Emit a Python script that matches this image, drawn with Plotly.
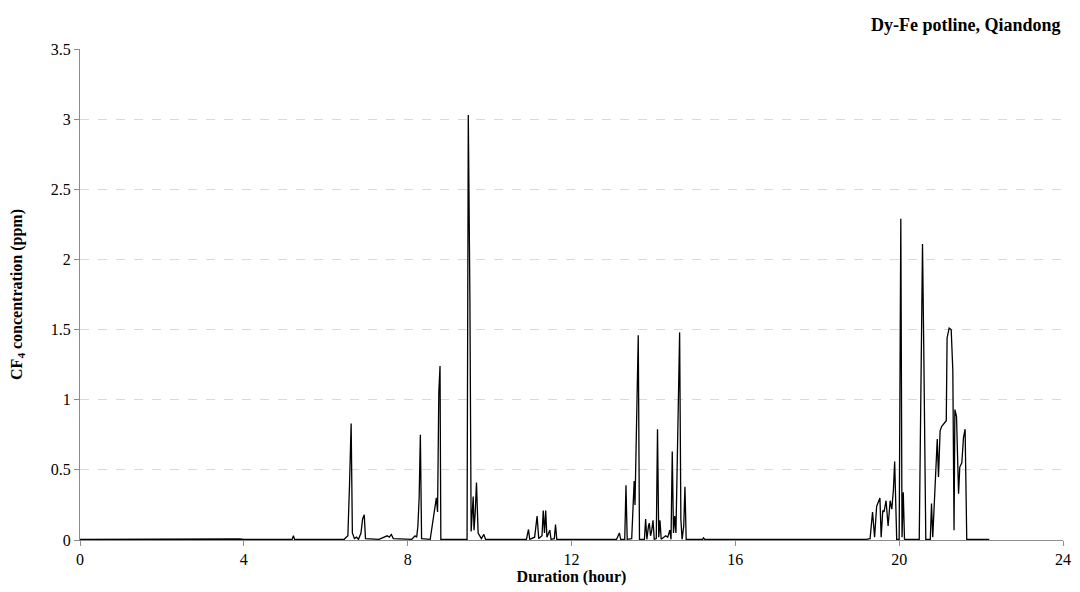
import plotly.graph_objects as go

# Duration (hour) and CF4 concentration (ppm)
hours = [
    0.0, 0.5, 1.0, 1.5, 2.0, 2.5, 3.0, 3.5, 3.9, 4.0, 4.5, 5.0, 5.18, 5.21, 5.24, 6.0,
    6.45, 6.5, 6.54, 6.58, 6.62, 6.65, 6.7, 6.75, 6.8, 6.86, 6.9, 6.94, 6.97,
    7.3, 7.4, 7.5, 7.55, 7.6, 7.65, 8.1, 8.18, 8.22, 8.25, 8.28, 8.31, 8.34,
    8.55, 8.62, 8.66, 8.7, 8.73, 8.76, 8.79, 8.81,
    9.45, 9.48, 9.52, 9.55, 9.6, 9.62, 9.65, 9.68, 9.72, 9.8, 9.86, 9.9,
    10.9, 10.95, 10.98, 11.1, 11.16, 11.2, 11.28, 11.31, 11.34, 11.37, 11.4, 11.47, 11.5,
    11.58, 11.61, 11.64,
    13.1, 13.17, 13.2, 13.3, 13.33, 13.36, 13.47, 13.5, 13.53, 13.55, 13.57, 13.6, 13.63, 13.66,
    13.78, 13.81, 13.84, 13.88, 13.9, 13.93, 13.96, 13.99, 14.02, 14.07, 14.1, 14.13, 14.16, 14.19,
    14.3, 14.35, 14.4, 14.43, 14.46, 14.49, 14.52, 14.55, 14.58, 14.61, 14.64, 14.67, 14.7,
    14.74, 14.77, 14.8, 15.2, 15.22, 15.25,
    19.2, 19.29, 19.35, 19.4, 19.45, 19.53, 19.56, 19.6, 19.63, 19.68, 19.73, 19.78, 19.82,
    19.86, 19.89, 19.94, 20.0, 20.04, 20.07, 20.1, 20.13,
    20.49, 20.55, 20.57, 20.6, 20.62, 20.65, 20.76, 20.79, 20.82, 20.87, 20.93, 20.96, 21.0,
    21.04, 21.15, 21.17, 21.22, 21.27, 21.31, 21.34, 21.36, 21.4, 21.45, 21.48, 21.53, 21.57,
    21.61, 21.65, 21.9, 22.2,
]
ppm = [
    0.004, 0.005, 0.004, 0.006, 0.005, 0.006, 0.008, 0.009, 0.007, 0.004, 0.004, 0.004, 0.004, 0.03, 0.004, 0.004,
    0.005, 0.02, 0.03, 0.39, 0.83, 0.05, 0.01, 0.02, 0.005, 0.05, 0.15, 0.18, 0.01,
    0.005, 0.02, 0.03, 0.02, 0.04, 0.01, 0.005, 0.03, 0.02, 0.1, 0.3, 0.75, 0.01,
    0.005, 0.15, 0.25, 0.3, 0.2, 1.05, 1.24, 0.005,
    0.005, 3.03, 1.7, 0.06, 0.31, 0.07, 0.2, 0.41, 0.05, 0.01, 0.04, 0.005,
    0.005, 0.075, 0.005, 0.02, 0.17, 0.01, 0.03, 0.21, 0.05, 0.21, 0.02, 0.07, 0.005,
    0.01, 0.11, 0.005,
    0.005, 0.05, 0.005, 0.005, 0.39, 0.005, 0.01, 0.3, 0.42, 0.25, 0.55, 1.08, 1.46, 0.005,
    0.005, 0.15, 0.005, 0.1, 0.12, 0.03, 0.07, 0.14, 0.005, 0.01, 0.79, 0.02, 0.14, 0.005,
    0.03, 0.02, 0.07, 0.005, 0.63, 0.05, 0.17, 0.05, 0.63, 1.22, 1.48, 0.15, 0.005,
    0.1, 0.38, 0.005, 0.005, 0.015, 0.005,
    0.005, 0.01, 0.2, 0.02, 0.24, 0.3, 0.02, 0.21, 0.2, 0.28, 0.1, 0.28, 0.22,
    0.36, 0.56, 0.005, 0.005, 2.29, 0.02, 0.34, 0.005,
    0.005, 1.57, 2.11, 1.38, 0.83, 0.005, 0.005, 0.26, 0.02, 0.36, 0.72, 0.45, 0.78,
    0.81, 0.85, 1.44, 1.51, 1.5, 1.21, 0.07, 0.93, 0.88, 0.33, 0.52, 0.55, 0.73,
    0.79, 0.005, 0.006, 0.004,
]

x_ticks = [0, 4, 8, 12, 16, 20, 24]
y_ticks = [0, 0.5, 1, 1.5, 2, 2.5, 3, 3.5]
y_labels = ["0", "0.5", "1", "1.5", "2", "2.5", "3", "3.5"]

FONT = "Liberation Serif"

fig = go.Figure()
fig.add_trace(go.Scatter(
    x=hours, y=ppm, mode="lines",
    line=dict(color="black", width=1.3),
    showlegend=False, hoverinfo="skip",
))

fig.update_layout(
    width=1072, height=584,
    margin=dict(l=72, r=17, t=41, b=52, autoexpand=False),
    paper_bgcolor="white", plot_bgcolor="white",
    font=dict(family=FONT, size=16, color="black"),
    annotations=[dict(
        text="<b>Dy-Fe potline, Qiandong</b>",
        xref="paper", yref="paper", x=1, y=1, xanchor="right", yanchor="bottom",
        yshift=12, showarrow=False, font=dict(family=FONT, size=18, color="black"),
    )],
)
fig.update_xaxes(
    range=[0, 24], tickvals=x_ticks, ticktext=[str(t) for t in x_ticks],
    showgrid=False, zeroline=False, showline=True, linecolor="#8c8c8c", linewidth=1,
    ticks="outside", ticklen=5, tickcolor="#8c8c8c", automargin=False,
    title=dict(text="<b>Duration (hour)</b>", font=dict(family=FONT, size=16), standoff=3),
)
fig.update_yaxes(
    range=[0, 3.5], tickvals=y_ticks, ticktext=y_labels,
    showgrid=True, gridcolor="#d9d9d9", griddash="dash", gridwidth=1,
    zeroline=False, showline=True, linecolor="#8c8c8c", linewidth=1,
    ticks="outside", ticklen=5, tickcolor="#8c8c8c", automargin=False,
    title=dict(text="<b>CF<sub>4</sub> concentration (ppm)</b>", font=dict(family=FONT, size=16), standoff=26),
)

fig.write_html("out.html")
